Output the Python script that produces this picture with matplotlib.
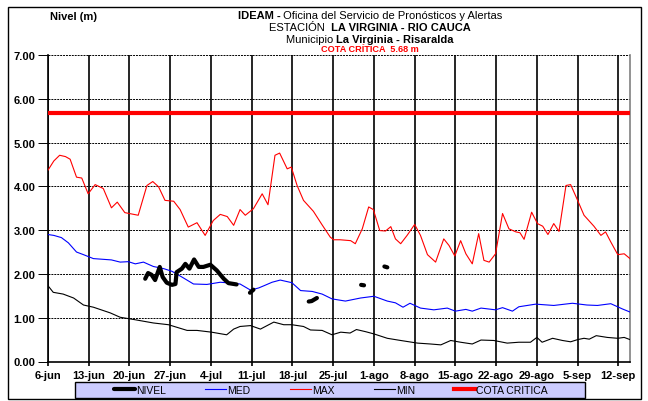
import matplotlib
matplotlib.use('Agg')
import matplotlib.pyplot as plt
import numpy as np
from matplotlib.offsetbox import TextArea, HPacker, AnchoredOffsetbox
from matplotlib.patches import Rectangle

plt.rcParams['font.family'] = ['Liberation Sans', 'DejaVu Sans']

# dias contados desde el 6-jun
etiquetas_x = ['6-jun', '13-jun', '20-jun', '27-jun', '4-jul', '11-jul', '18-jul', '25-jul',
               '1-ago', '8-ago', '15-ago', '22-ago', '29-ago', '5-sep', '12-sep']

cota = 5.68

max_dias = [0, 1, 2, 3, 3.8, 4.9, 5.8, 6.9, 8.1, 9.5, 10.9, 11.9, 13.2, 15.5, 17.0, 18.0, 19.0,
            20.1, 21.6, 22.7, 24.1, 25.6, 27.0, 28.4, 29.6, 30.8, 31.9, 33.0, 33.9, 35.3, 36.8,
            37.8, 39.0, 39.8, 41.1, 41.8, 42.8, 43.9, 45.6, 47.1, 48.5, 49.1, 50.2, 52.0, 52.8,
            54.0, 55.1, 55.9, 57.0, 58.0, 58.9, 59.7, 60.6, 61.7, 63.0, 64.0, 65.2, 66.6, 68.0,
            68.9, 69.9, 70.9, 71.8, 72.9, 74.0, 74.9, 75.8, 76.9, 78.1, 79.2, 80.4, 81.1, 81.8,
            83.1, 84.1, 85.0, 85.9, 86.9, 87.8, 89.0, 89.8, 91.0, 92.1, 93.8, 95.0, 95.8, 96.7,
            97.9, 99.0, 100]
max_val = [4.37, 4.58, 4.71, 4.68, 4.62, 4.21, 4.19, 3.83, 4.04, 3.95, 3.51, 3.64, 3.40, 3.34,
           4.02, 4.11, 3.99, 3.68, 3.66, 3.47, 3.07, 3.17, 2.88, 3.22, 3.36, 3.31, 3.11, 3.47,
           3.34, 3.49, 3.83, 3.58, 4.71, 4.76, 4.40, 4.44, 4.02, 3.68, 3.43, 3.12, 2.84, 2.78,
           2.78, 2.76, 2.69, 3.03, 3.53, 3.47, 2.99, 2.98, 3.08, 2.80, 2.69, 2.88, 3.13, 2.88,
           2.44, 2.27, 2.80, 2.65, 2.41, 2.76, 2.46, 2.23, 2.92, 2.31, 2.27, 2.46, 3.38, 3.03,
           2.96, 2.94, 2.79, 3.41, 3.15, 3.09, 2.90, 3.15, 2.97, 4.02, 4.04, 3.68, 3.34, 3.09,
           2.88, 2.96, 2.73, 2.44, 2.46, 2.35]

med_dias = [0, 1, 2.3, 3.5, 4.9, 6.1, 7.8, 10.9, 12.4, 13.8, 15.0, 16.4, 18.1, 19.9, 21.3, 23.0,
            25.0, 27.3, 29.6, 31.6, 33.0, 34.8, 36.2, 37.1, 38.5, 39.9, 41.9, 43.4, 45.4, 47.1,
            48.8, 51.1, 53.7, 56.0, 58.3, 59.7, 61.0, 62.2, 64.0, 66.3, 68.6, 70.0, 71.8, 72.9,
            74.4, 76.9, 78.1, 79.8, 80.9, 83.8, 86.9, 90.1, 92.6, 94.4, 96.7, 98.7, 100]
med_val = [2.90, 2.88, 2.83, 2.71, 2.50, 2.44, 2.35, 2.32, 2.27, 2.28, 2.23, 2.27, 2.17, 2.12,
           2.06, 1.93, 1.77, 1.76, 1.81, 1.79, 1.77, 1.63, 1.68, 1.73, 1.81, 1.86, 1.80, 1.62,
           1.60, 1.54, 1.43, 1.38, 1.45, 1.49, 1.38, 1.34, 1.24, 1.33, 1.22, 1.18, 1.22, 1.15,
           1.19, 1.15, 1.22, 1.18, 1.23, 1.15, 1.25, 1.31, 1.28, 1.33, 1.29, 1.28, 1.32, 1.20,
           1.13]

min_dias = [0, 0.9, 2.6, 4.4, 6.1, 7.8, 10.7, 12.4, 14.7, 18.1, 20.7, 23.9, 25.6, 28.1, 30.7,
            31.9, 33.0, 34.8, 36.5, 38.8, 40.5, 41.9, 43.9, 45.1, 47.1, 48.8, 50.3, 51.9, 53.0,
            54.6, 56.0, 58.3, 60.6, 63.5, 65.7, 67.5, 69.2, 70.9, 72.9, 74.4, 76.6, 78.9, 80.9,
            82.9, 84.0, 84.9, 86.7, 88.4, 89.8, 91.0, 92.1, 93.0, 94.2, 96.1, 97.9, 99.0, 100]
min_val = [1.73, 1.58, 1.54, 1.45, 1.29, 1.24, 1.11, 1.01, 0.96, 0.88, 0.84, 0.71, 0.71, 0.67,
           0.61, 0.74, 0.80, 0.82, 0.74, 0.90, 0.84, 0.84, 0.80, 0.72, 0.71, 0.61, 0.67, 0.65,
           0.73, 0.68, 0.63, 0.53, 0.48, 0.42, 0.40, 0.38, 0.48, 0.44, 0.40, 0.49, 0.48, 0.42,
           0.44, 0.44, 0.55, 0.44, 0.53, 0.48, 0.45, 0.50, 0.53, 0.51, 0.59, 0.55, 0.53, 0.55,
           0.50]

# nivel observado, con vacios (nan)
nivel_dias = [16.7, 17.2, 17.8, 18.4, 19.2, 19.7, 20.4, 21.3, 21.9, 22.1, 23.0, 23.6, 24.3,
              25.1, 25.9, 26.7, 27.9, 29.0, 30.2, 31.0, 32.4, 33.0,
              34.7, 35.3, 35.5,
              44.8, 45.3, 46.2, 46.5,
              53.8, 54.3, 54.5,
              57.8, 58.3]
nivel_val = [1.89, 2.02, 1.98, 1.86, 2.16, 1.93, 1.80, 1.75, 1.77, 2.04, 2.12, 2.23, 2.12,
             2.33, 2.16, 2.16, 2.21, 2.08, 1.89, 1.79, 1.76, np.nan,
             1.57, 1.64, np.nan,
             1.37, 1.38, 1.45, np.nan,
             1.75, 1.74, np.nan,
             2.17, 2.15]

fig = plt.figure(figsize=(6.48, 4.02), dpi=100)
ax = fig.add_axes([48/648, 1 - 362.5/402, (630 - 48)/648, (362.5 - 56)/402])

ax.plot(nivel_dias, nivel_val, color='black', lw=3, solid_capstyle='round',
        solid_joinstyle='round', label='NIVEL', zorder=6)
ax.plot(med_dias, med_val, color='#0000FF', lw=0.8, label='MED', zorder=4)
ax.plot(max_dias, max_val, color='#FF0000', lw=0.8, label='MAX', zorder=4)
ax.plot(min_dias, min_val, color='black', lw=0.8, label='MIN', zorder=4)
ax.axhline(cota, color='#FF0000', lw=3, label='COTA CRITICA', zorder=5)

ax.set_xlim(0, 100)
ax.set_ylim(0, 7)
ax.set_xticks(range(0, 99, 7))
ax.set_xticklabels(etiquetas_x, fontweight='bold', fontsize=8)
yt = np.arange(0, 8, 1)
ax.set_yticks(yt)
ax.set_yticklabels([f'{v:.2f}' for v in yt], fontweight='bold', fontsize=8)

ax.xaxis.grid(True, color='black', lw=1.2)
ax.yaxis.grid(True, color='black', ls=(0, (2, 1)), lw=0.7)
ax.tick_params(axis='y', length=7, width=0.7, pad=2)
ax.tick_params(axis='x', length=3, width=1.2, pad=3)

ax.spines['top'].set_visible(False)
ax.spines['right'].set_color('#808080')
ax.spines['right'].set_linewidth(1.2)
ax.spines['left'].set_linewidth(1.2)
ax.spines['bottom'].set_linewidth(1.2)

# marco exterior
fig.add_artist(Rectangle((8/648, 1 - 400/402), (641 - 8)/648, (400 - 8)/402,
                         transform=fig.transFigure, fill=False, ec='black', lw=1))

# titulos con partes en negrita
def linea(partes, x, y, size=8, color='black'):
    areas = [TextArea(t, textprops=dict(fontsize=size, fontweight=w, color=color))
             for t, w in partes]
    caja = HPacker(children=areas, pad=0, sep=0, align='baseline')
    anc = AnchoredOffsetbox(loc='center', child=caja, pad=0, borderpad=0, frameon=False,
                            bbox_to_anchor=(x/648, 1 - y/402), bbox_transform=fig.transFigure)
    fig.add_artist(anc)

linea([('IDEAM -', 'bold'), (' Oficina del Servicio de Pronósticos y Alertas', 'normal')], 370, 16)
linea([('ESTACIÓN ', 'normal'), (' LA VIRGINIA - RIO CAUCA', 'bold')], 370, 28)
linea([('Municipio ', 'normal'), ('La Virginia - Risaralda', 'bold')], 370, 40)
linea([('COTA CRÍTICA  5.68 m', 'bold')], 370, 50, size=6.6, color='#FF0000')
fig.text(74/648, 1 - 17/402, 'Nivel (m)', fontsize=8, fontweight='bold', ha='center', va='center')

# leyenda
fig.add_artist(Rectangle((75/648, 1 - 399/402), 510/648, 16/402, transform=fig.transFigure,
                         fc='#CCCCFF', ec='black', lw=1, zorder=1))
fig.legend(loc='center', bbox_to_anchor=(331/648, 1 - 391/402), ncol=5, fontsize=7.5,
           frameon=False, handlelength=2.0, handletextpad=0.1, columnspacing=3.8,
           borderpad=0)

fig.savefig('out.png', dpi=100)
